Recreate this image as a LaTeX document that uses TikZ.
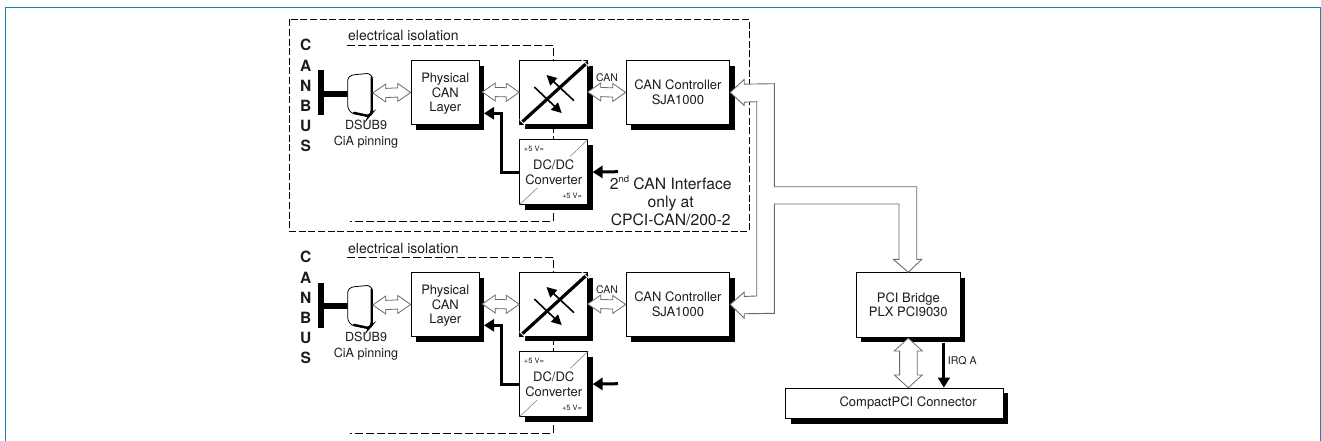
\documentclass[tikz,border=0pt]{standalone}
\usepackage{fontspec}
\setmainfont{TeX Gyre Heros}
\usetikzlibrary{calc,arrows.meta,shadows}
\definecolor{framebl}{HTML}{1A80B8}
\definecolor{txt}{HTML}{1C1C1C}
\definecolor{arrgray}{HTML}{6A6A6A}
\newcommand{\fs}[2]{\fontsize{#1}{#2}\selectfont}
\tikzset{
  x=1pt,y=-1pt,
  box/.style={draw=black,fill=white,line width=0.9pt,inner sep=0pt,anchor=north west,align=center,text=txt,
    font=\fs{13}{14.6},
    general shadow={shadow xshift=4.8pt,shadow yshift=-5.2pt,fill=black,opacity=1}},
  label/.style={inner sep=0pt,text=txt,align=center},
  frameline/.style={draw=framebl,line width=1pt},
  outerdash/.style={draw=black,line width=0.8pt,dash pattern=on 7pt off 2.6pt},
  isodash/.style={draw=black,line width=0.8pt,dash pattern=on 8pt off 3pt},
  whitearrow/.style={draw=arrgray,fill=white,line width=0.8pt,line join=miter},
  powerline/.style={draw=black,line width=3pt,-{Triangle[length=10pt,width=12pt]}},
  swarrow/.style={draw=black,line width=1.6pt,-{Triangle[length=10pt,width=10pt]}},
  thindiag/.style={draw=black!55,line width=0.5pt},
  busletter/.style={label,font=\bfseries\fs{15.5}{17}},
}
\newcommand{\hdbl}[2]{%
  \draw[whitearrow] (#1) -- ($(#1)+(13,-9)$) -- ($(#1)+(13,-4.6)$) -- ($(#2)+(-13,-4.6)$) -- ($(#2)+(-13,-9)$) -- (#2)
    -- ($(#2)+(-13,9)$) -- ($(#2)+(-13,4.6)$) -- ($(#1)+(13,4.6)$) -- ($(#1)+(13,9)$) -- cycle;}
\begin{document}
\begin{tikzpicture}
\useasboundingbox (0,0) rectangle (1321,441);
% page frame
\draw[frameline] (5.5,441) -- (5.5,7.5) -- (1320.5,7.5) -- (1320.5,441);
% outer dashed frame
\draw[outerdash] (289.5,19.5) rectangle (749.3,231);
% channels
\foreach \s/\dy in {a/0,b/212}{
\begin{scope}[yshift=-\dy pt]
  \draw[isodash] (347,45) -- (553,45) -- (553,221) -- (350,221);
  \node[label,anchor=west,font=\fs{14}{16}] (iso\s) at (348,36) {electrical isolation};
  \node[busletter] (c1\s) at (305.7,45) {C};
  \node[busletter] (c2\s) at (305.7,65.5) {A};
  \node[busletter] (c3\s) at (305.7,85.5) {N};
  \node[busletter] (c4\s) at (305.7,105.5) {B};
  \node[busletter] (c5\s) at (305.7,125.5) {U};
  \node[busletter] (c6\s) at (305.7,146) {S};
  % bus bar
  \node[fill=black,inner sep=0pt,minimum width=6pt,minimum height=45pt,anchor=north west] (bar\s) at (317.5,70.3) {};
  % DSUB connector
  \coordinate (dsub\s) at (348,94.2);
  \draw[black,line width=5.5pt] (bar\s.east |- dsub\s) -- (dsub\s);
  \draw[fill=white,draw=black,line width=0.8pt,rounded corners=2.5pt]
     (347.7,78) -- (351.7,75) -- (369.3,73.3) -- (372.4,77.3) -- (372.4,113.3) -- (369.3,117) -- (351.7,113.3) -- (347.7,108.3) -- cycle;
  \draw[black,line width=2.2pt,rounded corners=2.5pt,line cap=round] (371.6,77) -- (371.6,113) -- (369,116) -- (354,112.8);
  \coordinate (dsube\s) at (372.8,93);
  \node[label,font=\fs{12.6}{15.7}] (dlab\s) at (366,134) {DSUB9\\CiA pinning};
  % boxes
  \node[box,minimum width=68.3pt,minimum height=64pt] (phys\s) at (410.7,60) {};
  \node[label,font=\fs{13}{14.6}] (physt\s) at ($(phys\s.center)+(0,1.6)$) {Physical\\CAN\\Layer};
  \node[box,minimum width=68pt,minimum height=63.7pt] (sw\s) at (519.3,60) {};
  \node[box,minimum width=103.6pt,minimum height=64pt] (ctl\s) at (625.7,60) {CAN Controller\\SJA1000};
  \node[box,minimum width=68pt,minimum height=64.7pt] (dc\s) at (519.3,139.3) {DC/DC\\Converter};
  % switch symbol
  \draw[black,line width=3.2pt] ($(sw\s.south west)+(0.8,-0.8)$) -- ($(sw\s.north east)+(-0.8,2.4)$);
  \draw[white,line width=0.9pt] ($(sw\s.south west)+(0.2,-5)$) -- ($(sw\s.south west)+(6,0.8)$);
  \draw[white,line width=0.9pt] ($(sw\s.north east)+(-6.5,-0.2)$) -- ($(sw\s.north east)+(0.8,6.5)$);
  \draw[swarrow] ($(sw\s.north west)+(15,27)$) -- ($(sw\s.north west)+(42.4,53)$);
  \draw[swarrow] ($(sw\s.north west)+(54.7,40.7)$) -- ($(sw\s.north west)+(27.2,15)$);
  % DC/DC details
  \draw[thindiag] (dc\s.north east) -- ($(dc\s.north east)+(-18,17)$);
  \draw[thindiag] (dc\s.south west) -- ($(dc\s.south west)+(18,-17)$);
  \node[label,font=\fs{7.5}{8}] (vp\s) at (534,149.3) {+5 V=};
  \node[label,font=\fs{7.5}{8}] (vq\s) at (572,196) {+5 V=};
  % arrows
  \hdbl{dsube\s}{phys\s.west}
  \coordinate (pe\s) at (482.3,92);
  \hdbl{pe\s}{sw\s.west}
  \coordinate (se\s) at (587.8,92);
  \hdbl{se\s}{ctl\s.west}
  \node[label,font=\fs{10.5}{12}] (can\s) at (607,77.3) {CAN};
  \coordinate (pwr\s) at (484,113.3);
  \draw[powerline] (dc\s.west) -- ++(-18,0) |- (pwr\s);
  \coordinate (inp\s) at (618,171.7);
  \draw[powerline] (inp\s) -- ($(dc\s.east)+(4.4,0)$);
\end{scope}
}
% PCI side
\node[box,minimum width=104.3pt,minimum height=64.4pt] (pci) at (855.7,272.3) {PCI Bridge\\PLX PCI9030};
\node[box,minimum width=217.7pt,minimum height=30.6pt,font=\fs{13}{14}] (conn) at (785.3,387.7) {\hspace*{27pt}CompactPCI Connector};
% shared bus
\draw[whitearrow,line width=0.9pt] (ctla.east) -- ($(ctla.east)+(14,-13)$) -- ($(ctla.east)+(14,-8.3)$)
  -- (774.3,83.7) -- (774.3,186.7) -- (916.7,186.7) -- (916.7,259.3) -- (921.7,259.3) -- (pci.north)
  -- (893.3,259.3) -- (899,259.3) -- (899,204) -- (774.3,204) -- (774.3,313.3)
  -- ($(ctlb.east)+(14,9.3)$) -- ($(ctlb.east)+(14,13.7)$) -- (ctlb.east) -- ($(ctlb.east)+(14,-12.3)$) -- ($(ctlb.east)+(14,-8)$)
  -- (756.7,296) -- (756.7,101.7) -- ($(ctla.east)+(14,9.7)$) -- ($(ctla.east)+(14,13)$) -- cycle;
% PCI - connector
\coordinate (pcib) at ($(pci.south)+(0,0.6)$);
\coordinate (connt) at (pci.south |- conn.north);
\draw[whitearrow] (pcib) -- ($(pcib)+(14,12.7)$) -- ($(pcib)+(9,12.7)$) -- ($(connt)+(9,-12.7)$) -- ($(connt)+(14,-12.7)$) -- (connt)
  -- ($(connt)+(-14,-12.7)$) -- ($(connt)+(-8.7,-12.7)$) -- ($(pcib)+(-8.7,12.7)$) -- ($(pcib)+(-14,12.7)$) -- cycle;
\coordinate (irqs) at ($(pci.south)+(35.6,5)$);
\draw[black,line width=3pt,-{Triangle[length=10pt,width=11.5pt]}] (irqs) -- (irqs |- conn.north);
\node[label,font=\fs{10.6}{12}] (irq) at (962.3,360.7) {IRQ A};
% note
\node[label,font=\fs{15.7}{18.2}] (note) at (670.7,201) {2\raisebox{0.4em}{\fs{9.5}{10}nd} CAN Interface\\only at\\CPCI-CAN/200-2};
\end{tikzpicture}
\end{document}
